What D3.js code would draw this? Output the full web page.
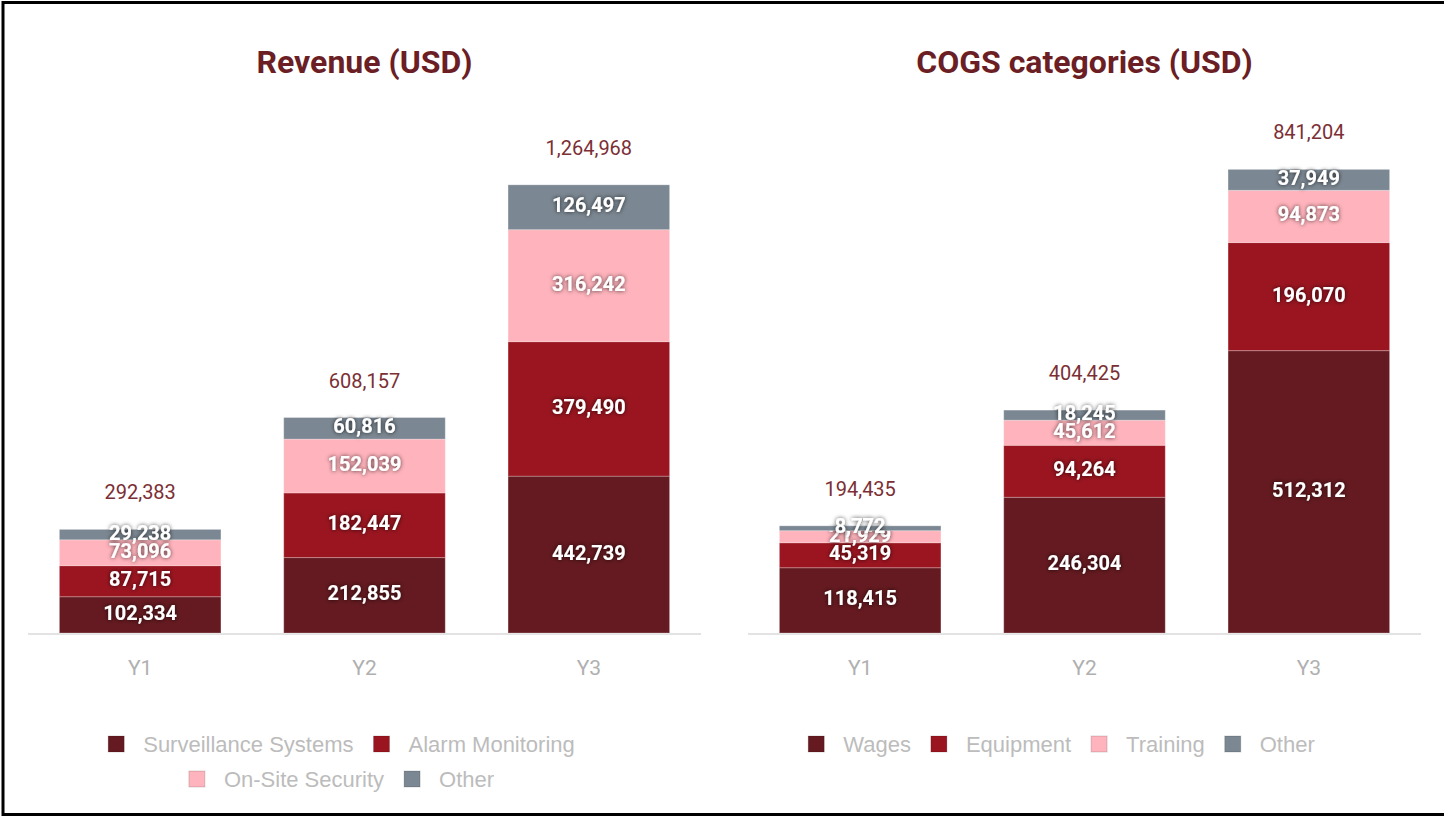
<!DOCTYPE html>
<html>
<head>
<meta charset="utf-8">
<script src="https://cdn.jsdelivr.net/npm/d3@7"></script>
<style>
  body { margin: 0; background: #fff; }
  svg { display: block; }
</style>
</head>
<body>
<div id="chart"></div>
<script>
// Data
const years = ["Y1", "Y2", "Y3"];

const revenueKeys = ["Surveillance Systems", "Alarm Monitoring", "On-Site Security", "Other"];
const surveillance = [102334, 212855, 442739];
const alarm = [87715, 182447, 379490];
const onSite = [73096, 152039, 316242];
const revenueOther = [29238, 60816, 126497];

const cogsKeys = ["Wages", "Equipment", "Training", "Other"];
const wages = [118415, 246304, 512312];
const equipment = [45319, 94264, 196070];
const training = [21929, 45612, 94873];
const cogsOther = [8772, 18245, 37949];

const colors = ["#641a20", "#9a1520", "#ffb3bc", "#7b8792"];

const W = 1444, H = 816;
const baseY = 633, topY = 137;
const fmt = d3.format(",");
const condensed = "Roboto, 'Liberation Sans', sans-serif";

const svg = d3.select("#chart")
  .append("svg")
  .attr("width", W)
  .attr("height", H);

// glow behind segment labels
const defs = svg.append("defs");
const glow = defs.append("filter")
  .attr("id", "glow")
  .attr("x", "-20%").attr("y", "-40%")
  .attr("width", "140%").attr("height", "180%");
glow.append("feDropShadow")
  .attr("dx", 0).attr("dy", 0)
  .attr("stdDeviation", 2.2)
  .attr("flood-color", "#000")
  .attr("flood-opacity", 0.75);

// frame (top, left, bottom)
svg.append("path")
  .attr("d", `M${W},2.5 H3 V814.5 H${W}`)
  .attr("fill", "none")
  .attr("stroke", "#000")
  .attr("stroke-width", 3);

function drawChart(cfg) {
  const table = years.map((yr, i) => {
    const row = { year: yr };
    cfg.keys.forEach((k, j) => row[k] = cfg.series[j][i]);
    return row;
  });

  const stacked = d3.stack().keys(cfg.keys)(table);

  const x = d3.scaleBand()
    .domain(years)
    .range([cfg.x0, cfg.x1])
    .paddingInner(0.28)
    .paddingOuter(0.14);

  const y = d3.scaleLinear()
    .domain([0, cfg.max])
    .range([baseY, topY]);

  const g = svg.append("g");

  // title
  g.append("text")
    .attr("x", (cfg.x0 + cfg.x1) / 2)
    .attr("y", 73)
    .attr("text-anchor", "middle")
    .style("font-family", condensed)
    .style("font-weight", "bold")
    .style("font-size", "32px")
    .style("fill", "#6b1e24")
    .text(cfg.title);

  // baseline
  g.append("line")
    .attr("x1", cfg.x0).attr("x2", cfg.x1)
    .attr("y1", baseY + 1).attr("y2", baseY + 1)
    .attr("stroke", "#e3e3e3")
    .attr("stroke-width", 2);

  // bars
  const layers = g.selectAll(".layer")
    .data(stacked)
    .join("g")
    .attr("fill", (d, i) => colors[i]);

  layers.selectAll("rect")
    .data(d => d)
    .join("rect")
    .attr("x", d => x(d.data.year))
    .attr("width", x.bandwidth())
    .attr("y", d => y(d[1]))
    .attr("height", d => y(d[0]) - y(d[1]))
    .attr("stroke", "rgba(255,255,255,0.25)")
    .attr("stroke-width", 1);

  // segment labels
  layers.selectAll("text")
    .data(d => d.map(v => ({ v, key: d.key })))
    .join("text")
    .attr("x", d => x(d.v.data.year) + x.bandwidth() / 2)
    .attr("y", d => (y(d.v[0]) + y(d.v[1])) / 2)
    .attr("dy", "0.25em")
    .attr("text-anchor", "middle")
    .attr("filter", "url(#glow)")
    .style("font-family", condensed)
    .style("font-weight", "bold")
    .style("font-size", "20px")
    .style("fill", "#fff")
    .text(d => fmt(d.v[1] - d.v[0]));

  // totals
  const last = stacked[stacked.length - 1];
  g.selectAll(".total")
    .data(last)
    .join("text")
    .attr("class", "total")
    .attr("x", d => x(d.data.year) + x.bandwidth() / 2)
    .attr("y", d => y(d[1]) - 30)
    .attr("text-anchor", "middle")
    .style("font-family", condensed)
    .style("font-size", "20px")
    .style("fill", "#7b2f35")
    .text(d => fmt(d[1]));

  // x axis
  g.append("g")
    .attr("transform", `translate(0,${baseY})`)
    .call(d3.axisBottom(x).tickSize(0).tickPadding(27))
    .call(a => a.select(".domain").remove())
    .selectAll("text")
    .style("font-family", condensed)
    .style("font-size", "21px")
    .style("fill", "#b0b0b0");

  // legend with wrapping
  const legend = g.append("g");
  const items = cfg.keys.map((k, i) => {
    const it = legend.append("g");
    it.append("rect")
      .attr("width", 16).attr("height", 16)
      .attr("y", -8)
      .attr("fill", colors[i])
      .attr("stroke", "rgba(0,0,0,0.15)");
    const t = it.append("text")
      .attr("x", 35)
      .attr("dy", "0.36em")
      .style("font-family", "'Liberation Sans', Arial, sans-serif")
      .style("font-size", "22px")
      .style("fill", "#bcbcbc")
      .text(k);
    return { it, w: 35 + t.node().getComputedTextLength() };
  });

  const gap = 20, maxW = cfg.x1 - cfg.x0;
  const rows = [[]];
  let rowW = 0;
  items.forEach(d => {
    const need = rowW === 0 ? d.w : rowW + gap + d.w;
    if (need > maxW && rowW > 0) { rows.push([d]); rowW = d.w; }
    else { rows[rows.length - 1].push(d); rowW = need; }
  });
  const cx = (cfg.x0 + cfg.x1) / 2 - 23;
  rows.forEach((r, ri) => {
    const total = d3.sum(r, d => d.w) + gap * (r.length - 1);
    let px = cx - total / 2;
    r.forEach(d => {
      d.it.attr("transform", `translate(${px},${744 + ri * 35})`);
      px += d.w + gap;
    });
  });
}

drawChart({
  title: "Revenue (USD)",
  keys: revenueKeys,
  series: [surveillance, alarm, onSite, revenueOther],
  max: 1400000,
  x0: 28, x1: 701
});

drawChart({
  title: "COGS categories (USD)",
  keys: cogsKeys,
  series: [wages, equipment, training, cogsOther],
  max: 900000,
  x0: 748, x1: 1421
});
</script>
</body>
</html>
